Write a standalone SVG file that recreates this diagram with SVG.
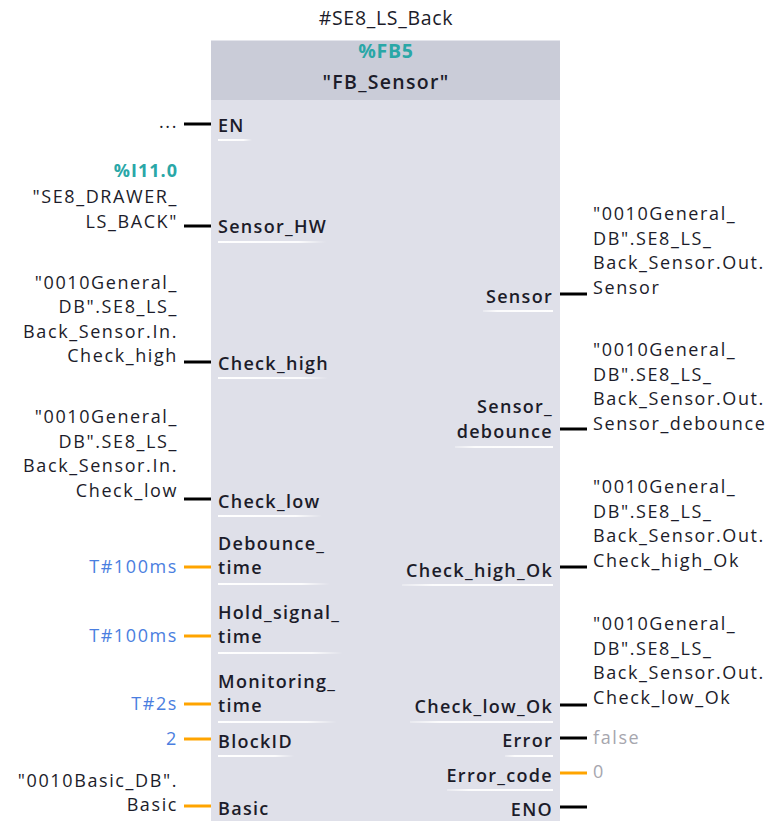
<svg xmlns="http://www.w3.org/2000/svg" width="772" height="821" viewBox="0 0 772 821">
<defs>
<linearGradient id="ulL" x1="0" y1="0" x2="1" y2="0"><stop offset="0" stop-color="#fff" stop-opacity="1"/><stop offset="0.75" stop-color="#fff" stop-opacity="0.9"/><stop offset="1" stop-color="#fff" stop-opacity="0"/></linearGradient>
<linearGradient id="ulR" x1="0" y1="0" x2="1" y2="0"><stop offset="0" stop-color="#fff" stop-opacity="0.3"/><stop offset="0.2" stop-color="#fff" stop-opacity="0.9"/><stop offset="1" stop-color="#fff" stop-opacity="1"/></linearGradient>
<style>
text{font-family:"Open Sans","Noto Sans","Liberation Sans",sans-serif;font-size:18px;letter-spacing:1.5px}
.big{font-size:19.5px;letter-spacing:0.7px}
.pin{fill:#1c1c2a;font-weight:600;letter-spacing:1.3px}
.pr{text-anchor:end}
.val{fill:#1c1c2a;text-anchor:end;letter-spacing:1.6px}
.valr{fill:#1c1c2a;letter-spacing:1.6px}
.teal{fill:#2aa7a7;font-weight:700}
.blue{fill:#4a7ee0;text-anchor:end;letter-spacing:1.6px}
.gray{fill:#a6a6ae;letter-spacing:1.6px}
.w{stroke-width:3;fill:none}
.bk{stroke:#000}
.or{stroke:#ffa400}
</style>
</defs>
<rect width="772" height="821" fill="#fff"/>
<text x="386" y="25" text-anchor="middle" class="big" fill="#1c1c2a">#SE8_LS_Back</text>
<g id="block">
<rect x="211" y="40" width="349" height="790" fill="#dfe0e9"/>
<rect x="211" y="40" width="349" height="60" fill="#caccd8"/>
<line x1="211" y1="40.5" x2="560" y2="40.5" stroke="#e4e5ec" stroke-width="1"/>
<text x="386" y="58" text-anchor="middle" class="teal big">%FB5</text>
<text x="386" y="89" text-anchor="middle" class="pin big">"FB_Sensor"</text>
<g id="pins-in">
<text x="218" y="132" class="pin">EN</text>
<text x="218" y="233" class="pin">Sensor_HW</text>
<text x="218" y="370" class="pin">Check_high</text>
<text x="218" y="508" class="pin">Check_low</text>
<text x="218" y="549.5" class="pin">Debounce_<tspan x="218" dy="24.5">time</tspan></text>
<text x="218" y="618.5" class="pin">Hold_signal_<tspan x="218" dy="24.5">time</tspan></text>
<text x="218" y="687.5" class="pin">Monitoring_<tspan x="218" dy="24.5">time</tspan></text>
<text x="218" y="748" class="pin">BlockID</text>
<text x="218" y="815" class="pin">Basic</text>
</g>
<g id="pins-out">
<text x="553" y="303" class="pin pr">Sensor</text>
<text x="553" y="413" class="pin pr">Sensor_<tspan x="553" dy="24.5">debounce</tspan></text>
<text x="553" y="577" class="pin pr">Check_high_Ok</text>
<text x="553" y="713" class="pin pr">Check_low_Ok</text>
<text x="553" y="747" class="pin pr">Error</text>
<text x="553" y="782" class="pin pr">Error_code</text>
<text x="553" y="816" class="pin pr">ENO</text>
</g>
<g id="underlines">
<rect x="218" y="139" width="34" height="2" fill="url(#ulL)"/>
<rect x="218" y="241" width="108" height="2" fill="url(#ulL)"/>
<rect x="218" y="377" width="110" height="2" fill="url(#ulL)"/>
<rect x="218" y="515" width="104" height="2" fill="url(#ulL)"/>
<rect x="218" y="583" width="112" height="2" fill="url(#ulL)"/>
<rect x="218" y="652" width="125" height="2" fill="url(#ulL)"/>
<rect x="218" y="721" width="119" height="2" fill="url(#ulL)"/>
<rect x="218" y="755" width="76" height="2" fill="url(#ulL)"/>
<rect x="483" y="310" width="70" height="2" fill="url(#ulR)"/>
<rect x="455" y="446" width="98" height="2" fill="url(#ulR)"/>
<rect x="402" y="584" width="151" height="2" fill="url(#ulR)"/>
<rect x="410" y="721" width="143" height="2" fill="url(#ulR)"/>
<rect x="505" y="755" width="48" height="2" fill="url(#ulR)"/>
<rect x="447" y="789" width="106" height="2" fill="url(#ulR)"/>
</g>
</g>
<g id="connectors">
<line x1="184" y1="124" x2="211" y2="124" class="w bk"/>
<line x1="184" y1="226" x2="211" y2="226" class="w bk"/>
<line x1="184" y1="362" x2="211" y2="362" class="w bk"/>
<line x1="184" y1="499" x2="211" y2="499" class="w bk"/>
<line x1="184" y1="567" x2="211" y2="567" class="w or"/>
<line x1="184" y1="636" x2="211" y2="636" class="w or"/>
<line x1="184" y1="704" x2="211" y2="704" class="w or"/>
<line x1="184" y1="739" x2="211" y2="739" class="w or"/>
<line x1="184" y1="806" x2="211" y2="806" class="w or"/>
<line x1="560" y1="294" x2="587" y2="294" class="w bk"/>
<line x1="560" y1="429" x2="587" y2="429" class="w bk"/>
<line x1="560" y1="567" x2="587" y2="567" class="w bk"/>
<line x1="560" y1="705" x2="587" y2="705" class="w bk"/>
<line x1="560" y1="738" x2="587" y2="738" class="w bk"/>
<line x1="560" y1="773" x2="587" y2="773" class="w or"/>
<line x1="560" y1="807" x2="587" y2="807" class="w bk"/>
</g>
<g id="op-en"><text x="178" y="128" class="val">...</text></g>
<g id="op-sensor-hw">
<text x="178" y="177" class="teal" text-anchor="end" style="letter-spacing:1px">%I11.0</text>
<text x="178" y="203" class="val">"SE8_DRAWER_<tspan x="178" dy="25">LS_BACK"</tspan></text>
</g>
<g id="op-check-high">
<text x="178" y="288.5" class="val">"0010General_<tspan x="178" dy="24.5">DB".SE8_LS_</tspan><tspan x="178" dy="24.5">Back_Sensor.In.</tspan><tspan x="178" dy="24.5">Check_high</tspan></text>
</g>
<g id="op-check-low">
<text x="178" y="423" class="val">"0010General_<tspan x="178" dy="24.5">DB".SE8_LS_</tspan><tspan x="178" dy="24.5">Back_Sensor.In.</tspan><tspan x="178" dy="24.5">Check_low</tspan></text>
</g>
<g id="op-debounce"><text x="178" y="573" class="blue">T#100ms</text></g>
<g id="op-hold"><text x="178" y="642" class="blue">T#100ms</text></g>
<g id="op-monitoring"><text x="178" y="710" class="blue">T#2s</text></g>
<g id="op-blockid"><text x="178" y="745" class="blue">2</text></g>
<g id="op-basic">
<text x="178" y="786.5" class="val">"0010Basic_DB".<tspan x="178" dy="24.5">Basic</tspan></text>
</g>
<g id="op-sensor">
<text x="593" y="220" class="valr">"0010General_<tspan x="593" dy="24.5">DB".SE8_LS_</tspan><tspan x="593" dy="24.5">Back_Sensor.Out.</tspan><tspan x="593" dy="24.5">Sensor</tspan></text>
</g>
<g id="op-sensor-debounce">
<text x="593" y="356" class="valr">"0010General_<tspan x="593" dy="24.5">DB".SE8_LS_</tspan><tspan x="593" dy="24.5">Back_Sensor.Out.</tspan><tspan x="593" dy="24.5">Sensor_debounce</tspan></text>
</g>
<g id="op-check-high-ok">
<text x="593" y="493" class="valr">"0010General_<tspan x="593" dy="24.5">DB".SE8_LS_</tspan><tspan x="593" dy="24.5">Back_Sensor.Out.</tspan><tspan x="593" dy="24.5">Check_high_Ok</tspan></text>
</g>
<g id="op-check-low-ok">
<text x="593" y="630" class="valr">"0010General_<tspan x="593" dy="24.5">DB".SE8_LS_</tspan><tspan x="593" dy="24.5">Back_Sensor.Out.</tspan><tspan x="593" dy="24.5">Check_low_Ok</tspan></text>
</g>
<g id="op-error"><text x="593" y="744" class="gray">false</text></g>
<g id="op-error-code"><text x="593" y="778" class="gray">0</text></g>
</svg>
